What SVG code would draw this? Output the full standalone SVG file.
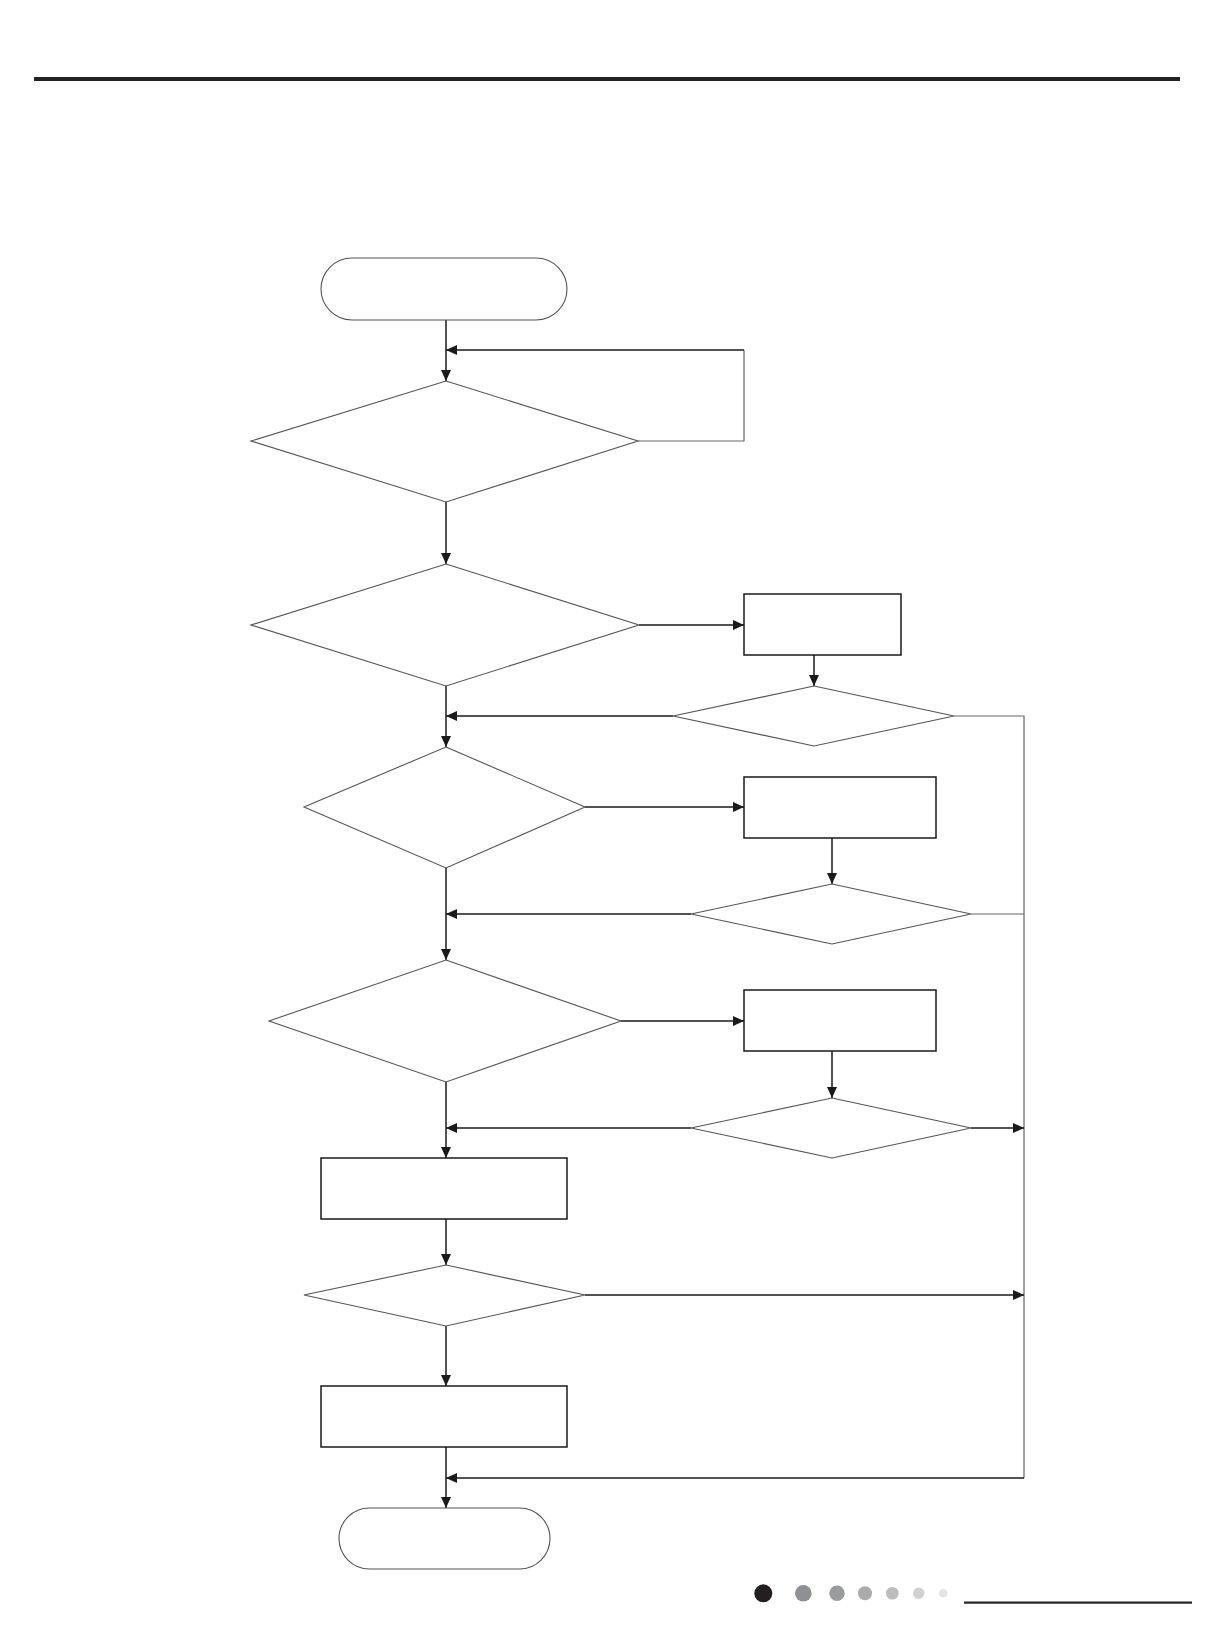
<svg xmlns="http://www.w3.org/2000/svg" width="1213" height="1644" viewBox="0 0 1213 1644">
<style>
.dia{fill:#fff;stroke:#555;stroke-width:1.1}
.box{fill:#fff;stroke:#1a1a1a;stroke-width:1.5}
.term{fill:#fff;stroke:#555;stroke-width:1.1}
.c{fill:none;stroke:#1a1a1a;stroke-width:1.5}
.cg{fill:none;stroke:#666;stroke-width:1.2}
.a{marker-end:url(#ah)}
</style>
<defs>
<marker id="ah" markerUnits="userSpaceOnUse" markerWidth="12" markerHeight="10" refX="11" refY="5" orient="auto">
<path d="M0,0 L11,5 L0,10 z" fill="#1a1a1a"/>
</marker>
</defs>
<rect x="34" y="77" width="1146" height="4" fill="#222"/>
<g id="connectors">
<path class="c a" d="M446,320 V381"/>
<path class="cg" d="M638,441 H744 V350"/>
<path class="c a" d="M744,350 H446"/>
<path class="c a" d="M446,502 V564"/>
<path class="c a" d="M639,625 H744"/>
<path class="c a" d="M814,655 V686"/>
<path class="c a" d="M673,716 H446"/>
<path class="c a" d="M446,686 V747"/>
<path class="cg" d="M954,716 H1024 V1478"/>
<path class="c a" d="M1024,1478 H446"/>
<path class="c a" d="M585,807 H744"/>
<path class="c a" d="M832,838 V884"/>
<path class="c a" d="M691,914 H446"/>
<path class="cg" d="M971,914 H1024"/>
<path class="c a" d="M446,868 V960"/>
<path class="c a" d="M621,1021 H744"/>
<path class="c a" d="M832,1051 V1098"/>
<path class="c a" d="M691,1128 H446"/>
<path class="c a" d="M971,1128 H1024"/>
<path class="c a" d="M446,1082 V1158"/>
<path class="c a" d="M446,1219 V1265"/>
<path class="c a" d="M585,1295 H1024"/>
<path class="c a" d="M446,1326 V1386"/>
<path class="c a" d="M446,1447 V1508"/>
</g>
<g id="start"><rect class="term" x="321" y="258" width="246" height="62" rx="31" ry="31"/></g>
<g id="d1"><polygon class="dia" points="446,381 638,441 446,502 251,441"/></g>
<g id="d2"><polygon class="dia" points="446,564 639,625 446,686 251,625"/></g>
<g id="rA"><rect class="box" x="744" y="594" width="157" height="61"/></g>
<g id="d3"><polygon class="dia" points="814,686 954,716 814,746 673,716"/></g>
<g id="d4"><polygon class="dia" points="446,747 585,807 446,868 304,807"/></g>
<g id="rB"><rect class="box" x="744" y="777" width="192" height="61"/></g>
<g id="d5"><polygon class="dia" points="832,884 971,914 832,944 691,914"/></g>
<g id="d6"><polygon class="dia" points="446,960 621,1021 446,1082 269,1021"/></g>
<g id="rC"><rect class="box" x="744" y="990" width="192" height="61"/></g>
<g id="d7"><polygon class="dia" points="832,1098 971,1128 832,1158 691,1128"/></g>
<g id="rD"><rect class="box" x="321" y="1158" width="246" height="61"/></g>
<g id="d8"><polygon class="dia" points="446,1265 585,1295 446,1326 304,1295"/></g>
<g id="rE"><rect class="box" x="321" y="1386" width="246" height="61"/></g>
<g id="end"><rect class="term" x="339" y="1508" width="211" height="61" rx="30.5" ry="30.5"/></g>
<g id="footer">
<circle cx="763.3" cy="1593.3" r="9" fill="#231f20"/>
<circle cx="803.3" cy="1593.3" r="8.3" fill="#8f9093"/>
<circle cx="837" cy="1593.3" r="7.7" fill="#9a9b9e"/>
<circle cx="865" cy="1593.3" r="7" fill="#aaabad"/>
<circle cx="892.3" cy="1593.3" r="6.3" fill="#bcbdbe"/>
<circle cx="918.7" cy="1593.3" r="5.7" fill="#d1d1d2"/>
<circle cx="943.3" cy="1593.3" r="4.3" fill="#e4e4e4"/>
<rect x="964" y="1601.5" width="228" height="2.2" fill="#222"/>
</g>
</svg>
